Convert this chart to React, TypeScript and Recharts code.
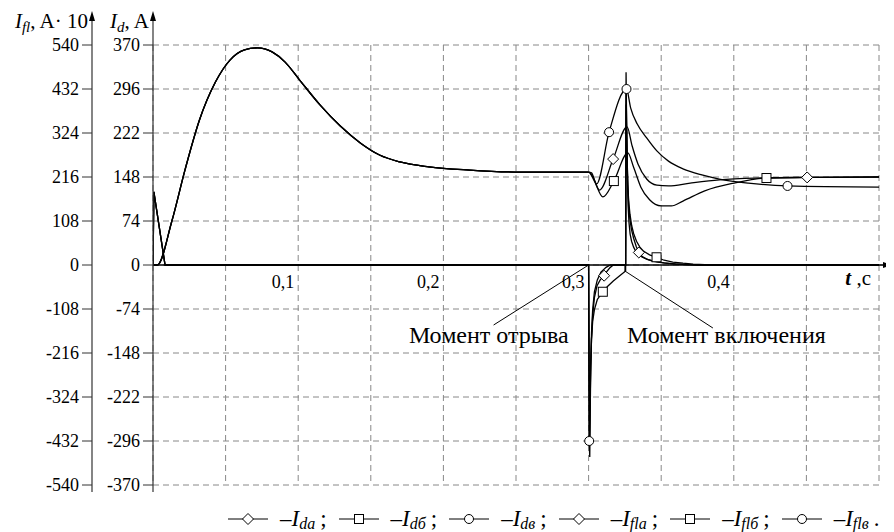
import React from 'react';
import { LineChart, Line, XAxis, YAxis, CartesianGrid, ReferenceLine, ReferenceDot, Legend } from 'recharts';

const FONT = '"Liberation Serif", "Times New Roman", Times, serif';

const timeTicks = [0, 0.05, 0.1, 0.15, 0.2, 0.25, 0.3, 0.35, 0.4, 0.45, 0.5];
const timeLabels = [0.1, 0.2, 0.3, 0.4];
const iflTicks = [-540, -432, -324, -216, -108, 0, 108, 216, 324, 432, 540];
const idTicks = [-370, -296, -222, -148, -74, 0, 74, 148, 222, 296, 370];

// field current, A*10, common part up to the moment of separation
const iflStart = [
  [0, 0], [0.003, 0], [0.013, 108], [0.022, 233], [0.032, 356], [0.043, 449], [0.053, 503],
  [0.063, 528], [0.072, 533], [0.082, 523], [0.091, 498], [0.101, 454], [0.115, 393],
  [0.129, 341], [0.143, 299], [0.156, 270], [0.17, 253], [0.19, 241], [0.218, 233],
  [0.253, 228], [0.3, 228],
];
const iflA = [
  [0.303, 216], [0.3075, 184], [0.3169, 260], [0.3265, 339], [0.33, 292], [0.334, 248],
  [0.34, 211], [0.347, 196], [0.355, 194], [0.37, 201], [0.39, 209], [0.42, 213.5],
  [0.4505, 215], [0.5, 216],
];
const iflB = [
  [0.304, 206], [0.3098, 167], [0.3174, 206], [0.327, 275], [0.331, 240], [0.336, 191],
  [0.342, 160], [0.35, 145], [0.357, 145], [0.365, 157], [0.38, 182], [0.4, 201],
  [0.4225, 213.5], [0.45, 215], [0.5, 216],
];
const iflV = [
  [0.302, 226], [0.3055, 199], [0.3141, 326], [0.3261, 432], [0.329, 385], [0.3335, 346],
  [0.34, 312], [0.347, 280], [0.355, 255], [0.365, 236], [0.378, 221], [0.39, 211],
  [0.41, 201], [0.437, 194], [0.5, 191],
];

// d-axis current, A
const idStart = [[0, 0], [0.0006, 123], [0.0083, 0], [0.3, 0]];
const idA = [
  [0.3006, -300], [0.301, -240], [0.3014, -180], [0.302, -125], [0.3028, -85], [0.304, -55],
  [0.3058, -35], [0.308, -25], [0.3107, -18], [0.3125, -11], [0.3145, -5], [0.317, 0],
  [0.3255, 0], [0.3258, 300], [0.3262, 230], [0.3266, 175], [0.327, 135], [0.3276, 100],
  [0.3284, 78], [0.3295, 60], [0.331, 45], [0.3328, 31], [0.3346, 21], [0.337, 14], [0.34, 10],
  [0.344, 6.5], [0.35, 4], [0.357, 2], [0.365, 1], [0.377, 0], [0.5, 0],
];
const idB = [
  [0.3006, -295], [0.301, -230], [0.3014, -170], [0.302, -125], [0.3028, -95], [0.304, -75],
  [0.306, -58], [0.3098, -45], [0.313, -36], [0.317, -27], [0.321, -19], [0.3255, -10],
  [0.3258, 270], [0.3262, 215], [0.3266, 170], [0.327, 135], [0.3276, 108], [0.3285, 85],
  [0.3297, 66], [0.331, 53], [0.333, 40], [0.3353, 30], [0.338, 23], [0.342, 17], [0.3468, 13],
  [0.352, 8], [0.358, 5], [0.365, 3], [0.372, 1.5], [0.38, 0.5], [0.39, 0], [0.5, 0],
];
const idV = [
  [0.3004, -296], [0.3008, -323], [0.3011, -250], [0.3015, -170], [0.302, -115], [0.3028, -75],
  [0.304, -45], [0.306, -25], [0.3085, -12], [0.312, -4], [0.315, 0], [0.3255, 0],
  [0.3258, 324], [0.3261, 260], [0.3264, 200], [0.3268, 140], [0.3272, 100], [0.3278, 72],
  [0.3286, 52], [0.3296, 40], [0.331, 30], [0.3325, 23], [0.334, 18], [0.337, 13], [0.341, 9],
  [0.346, 6], [0.352, 3.5], [0.36, 1.8], [0.368, 0.7], [0.375, 0], [0.5, 0],
];

// times where the markers sit
const iflAMarks = [0.3169, 0.4505];
const iflBMarks = [0.3174, 0.4225];
const iflVMarks = [0.3141, 0.3261, 0.437];
const idAMarks = [0.3107, 0.3346];
const idBMarks = [0.3098, 0.3468];
const idVMarks = [0.3004];

const legendItems = [
  { kind: 'diamond', sub: 'da' },
  { kind: 'square', sub: 'dб' },
  { kind: 'circle', sub: 'dв' },
  { kind: 'diamond', sub: 'fla' },
  { kind: 'square', sub: 'flб' },
  { kind: 'circle', sub: 'flв' },
];

const build = (head: number[][], tail: number[][], marks: number[]) =>
  [...head, ...tail].map(([t, v]) => ({ t, v, m: marks.includes(t) }));

const Marker = ({ kind, x, y }: { kind: string; x: number; y: number }) => {
  if (kind === 'diamond')
    return (
      <polygon
        points={`${x},${y - 5.5} ${x + 5.5},${y} ${x},${y + 5.5} ${x - 5.5},${y}`}
        fill="#fff"
        stroke="#000"
        strokeWidth={1}
      />
    );
  if (kind === 'square')
    return <rect x={x - 4.5} y={y - 4.5} width={9} height={9} fill="#fff" stroke="#000" strokeWidth={1} />;
  return <circle cx={x} cy={y} r={4.5} fill="#fff" stroke="#000" strokeWidth={1} />;
};

const markerDot = (kind: string) => (props: any) => {
  const { cx, cy, payload, index } = props;
  if (!payload || !payload.m) return <g key={index} />;
  return <Marker key={index} kind={kind} x={cx} y={cy} />;
};

const AxisTick = (p: any) => (
  <text x={p.x} y={p.y} dy="0.34em" textAnchor="end" fontFamily={FONT} fontSize={18} fill="#000">
    {p.payload.value}
  </text>
);

const AxisHead = (props: any) => {
  const { viewBox, sub, unit } = props;
  if (!viewBox) return null;
  const ax = viewBox.x + viewBox.width;
  const top = viewBox.y;
  const bottom = viewBox.y + viewBox.height;
  return (
    <g>
      <line x1={ax} y1={top} x2={ax} y2={top - 26} stroke="#333" strokeWidth={1.2} />
      <line x1={ax} y1={bottom} x2={ax} y2={bottom + 7} stroke="#333" strokeWidth={1.2} />
      <polygon points={`${ax},${top - 34} ${ax - 3},${top - 24} ${ax + 3},${top - 24}`} fill="#000" />
      <text x={ax - 4} y={top - 17} textAnchor="end" fontFamily={FONT} fontSize={21} fill="#000">
        <tspan fontStyle="italic">I</tspan>
        <tspan fontStyle="italic" fontSize={15} dy={4}>{sub}</tspan>
        <tspan dy={-4}>{unit}</tspan>
      </text>
    </g>
  );
};

const LegendRow = () => (
  <div
    style={{
      height: 45,
      boxSizing: 'border-box',
      paddingTop: 22,
      paddingLeft: 220,
      display: 'flex',
      alignItems: 'center',
      fontFamily: FONT,
      fontSize: 23,
      color: '#000',
      whiteSpace: 'nowrap',
    }}
  >
    {legendItems.map((it, i) => (
      <span key={it.sub} style={{ display: 'inline-flex', alignItems: 'center' }}>
        <svg width={40} height={14} style={{ marginLeft: i ? 12 : 0 }}>
          <line x1={0} y1={7} x2={40} y2={7} stroke="#000" strokeWidth={1} />
          <Marker kind={it.kind} x={20} y={7} />
        </svg>
        <span style={{ marginLeft: 12 }}>–</span>
        <i>I</i>
        <span style={{ fontSize: 16, fontStyle: 'italic', position: 'relative', top: 5 }}>{it.sub}</span>
        <span style={{ marginLeft: 5 }}>{i === legendItems.length - 1 ? '.' : ';'}</span>
      </span>
    ))}
  </div>
);

export default function App() {
  const series = [
    { id: 'fl', data: build(iflStart, iflA, iflAMarks), kind: 'diamond', curve: 'monotone' },
    { id: 'fl', data: build(iflStart, iflB, iflBMarks), kind: 'square', curve: 'monotone' },
    { id: 'fl', data: build(iflStart, iflV, iflVMarks), kind: 'circle', curve: 'monotone' },
    { id: 'd', data: build(idStart, idA, idAMarks), kind: 'diamond', curve: 'linear' },
    { id: 'd', data: build(idStart, idB, idBMarks), kind: 'square', curve: 'linear' },
    { id: 'd', data: build(idStart, idV, idVMarks), kind: 'circle', curve: 'linear' },
  ];
  const txt = { fontFamily: FONT, fill: '#000' };

  return (
    <div style={{ fontFamily: FONT }}>
      <LineChart width={878} height={524} margin={{ top: 37, right: 7, bottom: 2, left: 24 }}>
        <XAxis dataKey="t" type="number" domain={[0, 0.5]} ticks={timeTicks} hide allowDataOverflow />
        <YAxis
          yAxisId="d"
          orientation="left"
          width={61}
          type="number"
          domain={[-370, 370]}
          ticks={idTicks}
          interval={0}
          tickSize={10}
          tickMargin={3}
          tick={<AxisTick />}
          axisLine={{ stroke: '#333', strokeWidth: 1.2 }}
          tickLine={{ stroke: '#333' }}
          label={<AxisHead sub="d" unit=", A" />}
        />
        <YAxis
          yAxisId="fl"
          orientation="left"
          width={60}
          type="number"
          domain={[-540, 540]}
          ticks={iflTicks}
          interval={0}
          tickSize={10}
          tickMargin={3}
          tick={<AxisTick />}
          axisLine={{ stroke: '#333', strokeWidth: 1.2 }}
          tickLine={{ stroke: '#333' }}
          label={<AxisHead sub="fl" unit=", A· 10" />}
        />
        <CartesianGrid yAxisId="fl" stroke="#888" strokeDasharray="6 4" />
        <ReferenceLine yAxisId="fl" y={0} stroke="#000" strokeWidth={1.6} />
        <ReferenceDot
          yAxisId="fl"
          x={0.5}
          y={0}
          r={0}
          ifOverflow="visible"
          shape={(p: any) => (
            <g>
              <line x1={p.cx} y1={p.cy} x2={p.cx + 6} y2={p.cy} stroke="#000" strokeWidth={1.6} />
              <polygon points={`${p.cx + 14},${p.cy} ${p.cx + 4},${p.cy - 3} ${p.cx + 4},${p.cy + 3}`} fill="#000" />
              <text x={p.cx - 8} y={p.cy + 20} textAnchor="end" fontSize={21} {...txt}>
                <tspan fontStyle="italic" fontWeight="bold">t</tspan>
                <tspan> ,c</tspan>
              </text>
            </g>
          )}
        />
        {timeLabels.map((t) => (
          <ReferenceDot
            key={t}
            yAxisId="fl"
            x={t}
            y={0}
            r={0}
            ifOverflow="visible"
            shape={(p: any) => (
              <text x={p.cx - 4} y={p.cy + 23} textAnchor="end" fontSize={18} {...txt}>
                {t.toFixed(1).replace('.', ',')}
              </text>
            )}
          />
        ))}
        {series.map((s, i) => (
          <Line
            key={i}
            yAxisId={s.id}
            data={s.data}
            dataKey="v"
            type={s.curve as any}
            stroke="#000"
            strokeWidth={1.3}
            dot={markerDot(s.kind)}
            activeDot={false}
            legendType="none"
            isAnimationActive={false}
          />
        ))}
        <ReferenceDot
          yAxisId="fl"
          x={0.3}
          y={0}
          r={0}
          ifOverflow="visible"
          shape={(p: any) => (
            <g>
              <line x1={p.cx} y1={p.cy} x2={p.cx - 95} y2={p.cy + 60} stroke="#000" strokeWidth={1} />
              <text x={p.cx - 20} y={p.cy + 78} textAnchor="end" fontSize={24} {...txt}>
                Момент отрыва
              </text>
            </g>
          )}
        />
        <ReferenceDot
          yAxisId="fl"
          x={0.325}
          y={0}
          r={0}
          ifOverflow="visible"
          shape={(p: any) => (
            <g>
              <polyline
                points={`${p.cx},${p.cy} ${p.cx},${p.cy + 6} ${p.cx + 88},${p.cy + 63}`}
                fill="none"
                stroke="#000"
                strokeWidth={1}
              />
              <text x={p.cx + 2} y={p.cy + 78} fontSize={24} {...txt}>
                Момент включения
              </text>
            </g>
          )}
        />
        <Legend verticalAlign="bottom" content={<LegendRow />} wrapperStyle={{ left: 0, width: 878, height: 45 }} />
      </LineChart>
    </div>
  );
}
